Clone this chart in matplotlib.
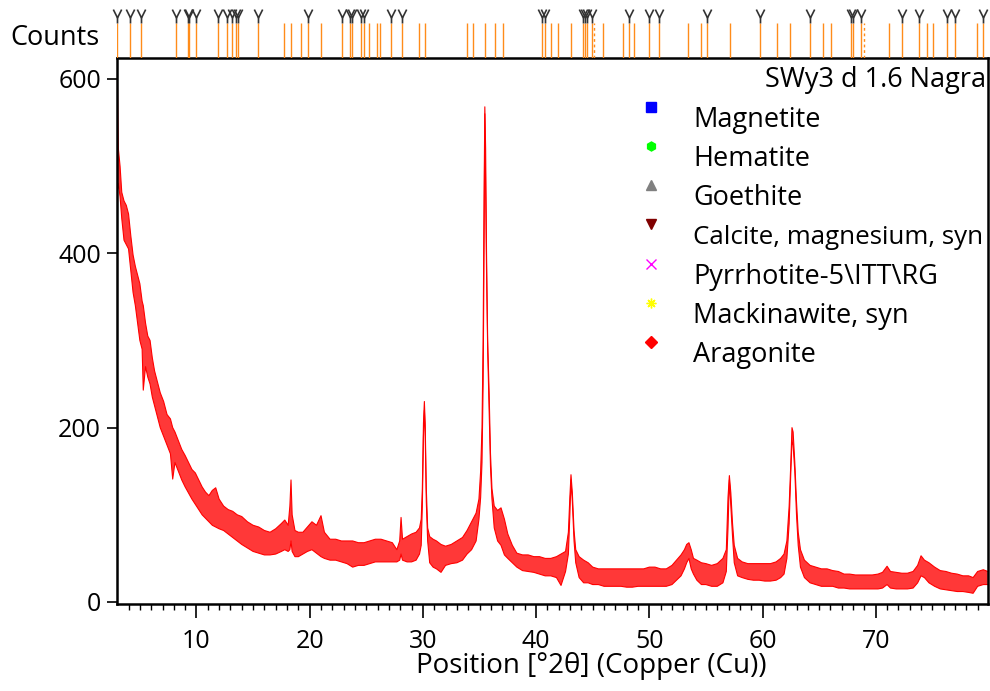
import numpy as np
import matplotlib
matplotlib.use("Agg")
import matplotlib.pyplot as plt
from matplotlib.path import Path

plt.rcParams['font.family'] = ['Open Sans', 'DejaVu Sans']

# scan: position [deg 2theta] with lower / upper edge of the noise band [counts]
two_theta = [3.00, 3.10, 3.25, 3.40, 3.60, 3.80, 4.00, 4.20, 4.40, 4.60, 4.80, 5.00,
             5.20, 5.30, 5.50, 5.70, 5.90, 6.10, 6.30, 6.50, 6.80, 7.10, 7.40, 7.70,
             7.90, 8.10, 8.40, 8.70, 9.00, 9.30, 9.60, 9.90, 10.2, 10.5, 10.8, 11.1,
             11.4, 11.7, 12.0, 12.4, 12.8, 13.2, 13.6, 14.0, 14.5, 15.0, 15.5, 16.0,
             16.5, 17.0, 17.5, 17.8, 18.1, 18.25, 18.35, 18.45, 18.7, 19.0, 19.4, 19.8,
             20.2, 20.6, 21.0, 21.3, 21.8, 22.3, 22.8, 23.3, 23.8, 24.3, 24.8, 25.3,
             25.8, 26.3, 26.8, 27.3, 27.7, 27.95, 28.07, 28.2, 28.6, 29.0, 29.4, 29.7,
             29.85, 29.95, 30.05, 30.13, 30.2, 30.3, 30.42, 30.6, 30.9, 31.2, 31.6, 32.0,
             32.5, 33.0, 33.5, 33.9, 34.3, 34.7, 34.95, 35.1, 35.22, 35.32, 35.4, 35.47,
             35.54, 35.62, 35.72, 35.85, 35.97, 36.1, 36.3, 36.6, 36.9, 37.2, 37.5, 37.9,
             38.3, 38.8, 39.3, 39.8, 40.3, 40.8, 41.3, 41.8, 42.2, 42.6, 42.85, 42.98,
             43.08, 43.2, 43.35, 43.5, 43.8, 44.2, 44.6, 45.0, 45.5, 46.0, 46.5, 47.0,
             47.5, 48.0, 48.5, 49.0, 49.5, 50.0, 50.5, 51.0, 51.5, 52.0, 52.4, 52.8,
             53.1, 53.3, 53.5, 53.7, 53.9, 54.2, 54.6, 55.0, 55.5, 56.0, 56.5, 56.8,
             56.95, 57.07, 57.2, 57.35, 57.5, 57.8, 58.2, 58.7, 59.2, 59.7, 60.2, 60.7,
             61.2, 61.6, 61.9, 62.15, 62.35, 62.5, 62.6, 62.7, 62.85, 63.0, 63.15, 63.35,
             63.7, 64.2, 64.7, 65.2, 65.7, 66.2, 66.7, 67.2, 67.7, 68.2, 68.7, 69.2,
             69.7, 70.2, 70.6, 71.0, 71.3, 71.8, 72.3, 72.8, 73.3, 73.7, 74.0, 74.3,
             74.7, 75.2, 75.7, 76.2, 76.7, 77.2, 77.7, 78.2, 78.6, 79.0, 79.5, 79.9]
counts_low = [470, 480, 465, 440, 415, 410, 405, 380, 355, 340, 320, 300,
              290, 243, 270, 258, 250, 235, 225, 215, 200, 190, 180, 170,
              141, 160, 150, 140, 132, 125, 118, 112, 106, 100, 96, 92,
              88, 86, 84, 82, 78, 74, 70, 66, 62, 58, 56, 54,
              54, 55, 58, 60, 58, 60, 70, 58, 52, 52, 55, 58,
              60, 56, 52, 50, 48, 48, 46, 44, 40, 42, 42, 44,
              46, 46, 46, 46, 46, 48, 55, 48, 46, 46, 48, 55,
              65, 110, 190, 220, 195, 115, 70, 45, 40, 38, 34, 42,
              44, 45, 48, 55, 60, 70, 95, 120, 160, 250, 400, 560,
              480, 380, 290, 220, 155, 118, 85, 70, 65, 54, 50, 45,
              40, 36, 35, 34, 32, 30, 30, 28, 19, 35, 55, 100,
              140, 115, 70, 45, 28, 22, 22, 20, 20, 18, 18, 18,
              18, 17, 17, 18, 18, 18, 18, 18, 18, 20, 25, 30,
              38, 45, 50, 38, 32, 25, 20, 20, 18, 18, 22, 35,
              85, 140, 110, 75, 45, 30, 28, 26, 25, 25, 24, 24,
              25, 28, 32, 50, 90, 150, 185, 180, 150, 100, 65, 40,
              28, 22, 20, 18, 18, 18, 16, 16, 15, 15, 15, 15,
              15, 15, 16, 20, 16, 15, 15, 15, 16, 22, 30, 28,
              22, 18, 15, 14, 13, 12, 12, 11, 10, 18, 20, 20]
counts_high = [612, 520, 500, 470, 460, 455, 445, 420, 398, 385, 375, 365,
               345, 340, 320, 305, 300, 280, 265, 255, 240, 230, 215, 210,
               200, 195, 185, 175, 168, 160, 152, 148, 140, 132, 126, 122,
               128, 131, 118, 110, 106, 104, 100, 98, 92, 88, 86, 82,
               80, 84, 90, 94, 88, 110, 140, 100, 82, 80, 80, 86,
               92, 88, 99, 80, 72, 72, 70, 70, 70, 68, 68, 70,
               72, 72, 70, 68, 60, 70, 97, 72, 75, 78, 80, 85,
               95, 130, 205, 230, 205, 130, 85, 75, 72, 70, 66, 64,
               66, 70, 74, 82, 92, 102, 118, 150, 200, 300, 460, 568,
               520, 400, 300, 240, 170, 130, 110, 105, 108, 95, 78, 65,
               56, 54, 54, 52, 52, 50, 50, 52, 55, 58, 80, 120,
               146, 125, 82, 60, 52, 48, 45, 40, 38, 38, 38, 38,
               38, 38, 38, 38, 38, 40, 40, 38, 38, 42, 48, 54,
               60, 66, 68, 60, 50, 48, 45, 44, 42, 44, 50, 60,
               120, 145, 125, 90, 65, 50, 46, 44, 44, 44, 44, 44,
               46, 50, 55, 70, 110, 160, 200, 195, 160, 115, 80, 60,
               48, 42, 40, 38, 38, 36, 35, 32, 32, 31, 31, 31,
               31, 32, 34, 41, 35, 34, 33, 33, 35, 42, 53, 48,
               45, 40, 36, 35, 33, 32, 30, 30, 28, 35, 37, 35]

# reference pattern sticks [deg 2theta]
sticks_marked = [3.0, 4.13, 5.12, 8.22, 9.22, 9.36, 9.94, 11.87, 12.66, 13.11, 13.49,
                 13.69, 15.43, 19.85, 22.88, 23.56, 23.74, 24.53, 24.82, 27.18, 28.13,
                 40.49, 40.79, 44.17, 44.32, 44.47, 44.94, 48.21, 49.97, 50.86, 55.07,
                 59.75, 64.17, 67.79, 67.96, 68.70, 72.32, 73.82, 76.32, 77.00, 79.45]
sticks_plain = [17.70, 18.32, 19.23, 20.97, 25.24, 25.97, 26.18, 29.66, 30.16, 33.92,
                34.43, 35.49, 36.37, 37.10, 41.32, 41.91, 43.11, 45.94, 47.70, 48.65,
                53.42, 54.57, 57.10, 61.28, 62.43, 65.37, 66.02, 71.17, 74.53, 75.06,
                78.92]
sticks_dotted = [45.14, 68.99]

phases = ['Magnetite', 'Hematite', 'Goethite', 'Calcite, magnesium, syn',
          'Pyrrhotite-5\\ITT\\RG', 'Mackinawite, syn', 'Aragonite']
phase_markers = ['s', 'h', '^', 'v', 'x', (8, 2, 0), 'D']
phase_colors = ['#0000ff', '#00ff00', '#808080', '#800000', '#ff00ff', '#ffff00', '#ff0000']
sample_name = 'SWy3 d 1.6 Nagra'

W, H = 990, 691
fig = plt.figure(figsize=(W / 100, H / 100), dpi=100)
L, R, T, B = 117, 987.5, 58, 604
ax = fig.add_axes([L / W, 1 - B / H, (R - L) / W, (B - T) / H])
top = fig.add_axes([L / W, 1 - T / H, (R - L) / W, T / H])

xlim = (2.98, 79.87)

# main scan
ax.fill_between(two_theta, counts_low, counts_high, facecolor='#ff0000', alpha=0.78,
                lw=0)
ax.plot(two_theta, counts_low, color='#ff0000', lw=0.8)
ax.plot(two_theta, counts_high, color='#ff0000', lw=0.8)
ax.set_xlim(*xlim)
ax.set_ylim(-2.3, 624)
ax.set_yticks([0, 200, 400, 600])
ax.set_xticks(range(10, 80, 10))
ax.set_xticks(range(4, 80), minor=True)
ax.tick_params(axis='both', which='major', direction='out', length=7, width=1.2,
               labelsize=18)
ax.tick_params(axis='y', which='major', pad=4.5)
ax.tick_params(axis='x', which='major', length=10, pad=8)
ax.tick_params(axis='x', which='minor', direction='out', length=4, width=1.0)
for s in ax.spines.values():
    s.set_linewidth(1.8)
ax.set_xlabel('Position [°2θ] (Copper (Cu))', fontsize=20)
ax.xaxis.set_label_coords((591 - L) / (R - L), -(666 - B) / (B - T))
ax.xaxis.label.set_va('center')

# legend drawn inside the axes
lx_m = (651 - L) / (R - L)
lx_t = (693 - L) / (R - L)
ax.text(1 - 1 / (R - L), (B - 80) / (B - T), sample_name, transform=ax.transAxes,
        ha='right', va='center', fontsize=19.5, clip_on=True)
for i, (name, mk, col) in enumerate(zip(phases, phase_markers, phase_colors)):
    ym = (B - (106.7 + 39.2 * i)) / (B - T)
    yt = (B - (120 + 39.2 * i)) / (B - T)
    ms = 7 if mk in ('x', (8, 2, 0)) else 6.5
    ax.plot([lx_m], [ym], marker=mk, color=col, ms=ms, mew=1.0, ls='none',
            transform=ax.transAxes, clip_on=False)
    fs = 18.6 if len(name) > 20 else 19.5
    ax.text(lx_t, yt, name, transform=ax.transAxes, ha='left', va='center',
            fontsize=fs)

# reference sticks above the scan, phase glyph on top of the marked ones
vglyph = Path([(-0.3, 0.5), (0, -0.1), (0.3, 0.5), (0, -0.1), (0, -0.1), (0, -0.5)],
              [Path.MOVETO, Path.LINETO, Path.MOVETO, Path.LINETO, Path.MOVETO, Path.LINETO])
top.set_xlim(*xlim)
top.set_ylim(0, T)
top.axis('off')
top.vlines(sticks_marked + sticks_plain, 0, 35, color='#ff8c1a', lw=1.0)
top.vlines(sticks_dotted, 0, 35, color='#ff8c1a', lw=1.0, linestyles=(0, (2, 2)))
top.plot(sticks_marked, [42] * len(sticks_marked), ls='none', marker=vglyph, ms=10,
         mew=1.2, color='#333333', clip_on=False)

fig.text(10 / W, 1 - 38 / H, 'Counts', fontsize=19.5, ha='left', va='center')

fig.savefig('out.png', dpi=100)
